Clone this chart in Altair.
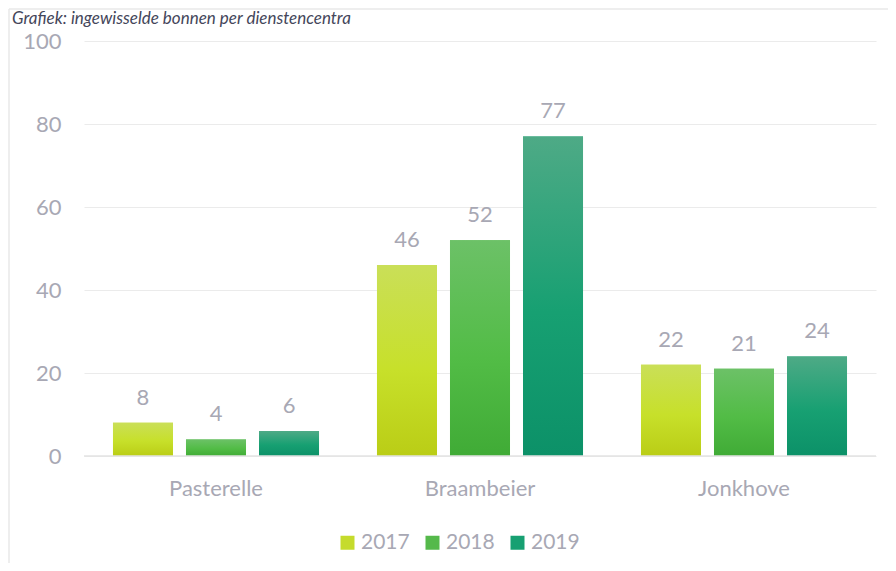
import altair as alt
import pandas as pd

centres = ["Pasterelle", "Braambeier", "Jonkhove"]
years = ["2017", "2018", "2019"]
v2017 = [8, 46, 22]
v2018 = [4, 52, 21]
v2019 = [6, 77, 24]
y_ticks = [0, 20, 40, 60, 80, 100]
solid = ["#c5db2c", "#55b94b", "#17a072"]
title_text = "Grafiek: ingewisselde bonnen per dienstencentra"

rows = []
for yr, vals in zip(years, [v2017, v2018, v2019]):
    for c, v in zip(centres, vals):
        rows.append({"centre": c, "year": yr, "value": v})
df = pd.DataFrame(rows)

def grad(top, mid, bottom):
    return alt.LinearGradient(
        gradient="linear", x1=0, y1=0, x2=0, y2=1,
        stops=[alt.GradientStop(color=top, offset=0),
               alt.GradientStop(color=mid, offset=0.55),
               alt.GradientStop(color=bottom, offset=1)])

grads = {
    "2017": grad("#cadf58", "#c7e02a", "#bacd16"),
    "2018": grad("#6cc167", "#52bc46", "#40ab36"),
    "2019": grad("#4eaa86", "#17a072", "#0c9168"),
}

FONT = "Lato"
GREY = "#a8a8b4"

x_enc = alt.X("centre:N", sort=centres,
              scale=alt.Scale(paddingInner=0, paddingOuter=0),
              axis=alt.Axis(title=None, labelAngle=0, domain=False, ticks=False,
                            labelPadding=22, labelFontSize=22, labelFont=FONT,
                            labelColor=GREY))
xo_enc = alt.XOffset("year:N", sort=years,
                     scale=alt.Scale(domain=years, paddingInner=0.178, paddingOuter=0.397))
y_enc = alt.Y("value:Q", scale=alt.Scale(domain=[0, 100]),
              axis=alt.Axis(title=None, values=y_ticks, domain=False, ticks=False,
                            labelPadding=23, labelFontSize=22, labelFont=FONT,
                            labelColor=GREY, gridColor="#ebebeb", gridWidth=1.2))

base = alt.Chart(df)

legend_bars = base.mark_bar().encode(
    x=x_enc, xOffset=xo_enc, y=y_enc,
    color=alt.Color("year:N", sort=years,
                    scale=alt.Scale(domain=years, range=solid),
                    legend=alt.Legend(title=None, orient="none", direction="horizontal",
                                      legendX=253, legendY=76 + 415, padding=0,
                                      symbolType="square", symbolSize=196,
                                      symbolStrokeWidth=0,
                                      labelFontSize=21, labelFont=FONT, labelColor=GREY,
                                      labelOffset=3, columnPadding=12)),
)

grad_layers = [
    base.transform_filter(alt.datum.year == yr).mark_bar(color=grads[yr]).encode(
        x=x_enc, xOffset=xo_enc, y=y_enc)
    for yr in years
]

labels = base.mark_text(dy=-18, baseline="alphabetic", fontSize=22, font=FONT,
                        color=GREY).encode(
    x=x_enc, xOffset=xo_enc, y=y_enc, text=alt.Text("value:Q"))

zero_rule = alt.Chart(pd.DataFrame({"v": [0]})).mark_rule(color="#e3e3e3", strokeWidth=1.5).encode(
    y=alt.Y("v:Q", scale=alt.Scale(domain=[0, 100])))

one = pd.DataFrame({"a": [0]})
border_left = alt.Chart(one).mark_rule(stroke="#e8e8e8", strokeWidth=1.5).encode(
    x=alt.value(-75), y=alt.value(-32), y2=alt.value(1000))
border_top = alt.Chart(one).mark_rule(stroke="#e8e8e8", strokeWidth=1.5).encode(
    x=alt.value(-75), x2=alt.value(1500), y=alt.value(-32))

title = alt.Chart(one).mark_text(text=title_text, align="left", baseline="alphabetic",
                                 fontSize=17, font=FONT, fontStyle="italic",
                                 color="#44465a").encode(
    x=alt.value(-72), y=alt.value(-17))

chart = alt.layer(border_left, border_top, title, legend_bars, *grad_layers,
                  zero_rule, labels).properties(
    width=792, height=415,
    autosize=alt.AutoSizeParams(type="none"),
    padding={"left": 76, "top": 33, "right": 12, "bottom": 107},
).configure(background="white").configure_view(stroke=None)

chart.save("out.html", embed_options={"renderer": "svg", "actions": False})
